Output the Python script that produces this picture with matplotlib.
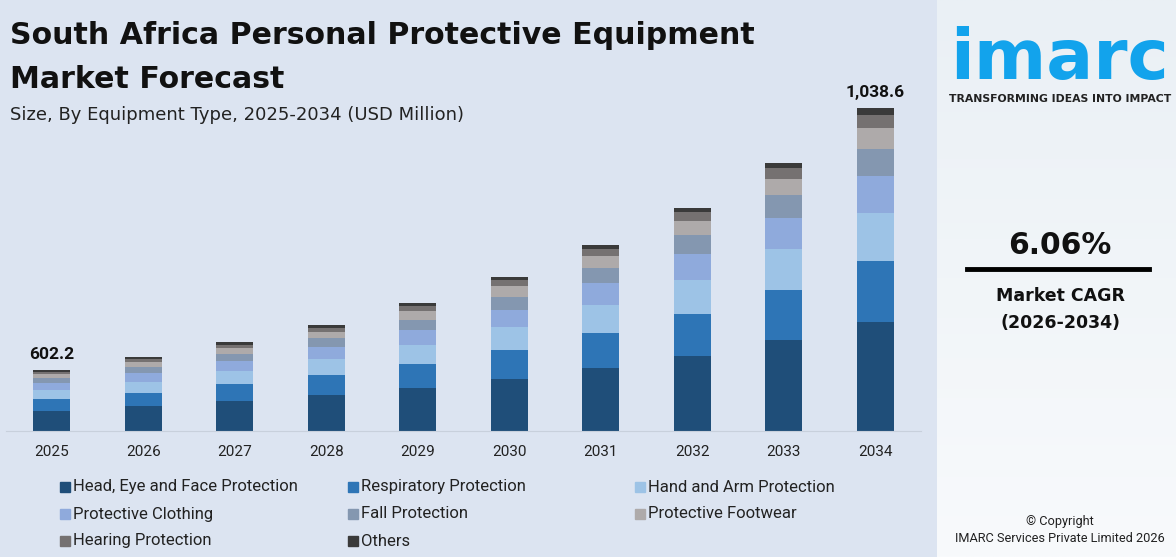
import numpy as np
import matplotlib.pyplot as plt
from matplotlib.patches import Rectangle

years = ["2025", "2026", "2027", "2028", "2029", "2030", "2031", "2032", "2033", "2034"]
segments = ["Head, Eye and Face Protection", "Respiratory Protection", "Hand and Arm Protection",
            "Protective Clothing", "Fall Protection", "Protective Footwear",
            "Hearing Protection", "Others"]
colors = ["#1f4e79", "#2e75b6", "#9dc3e6", "#8faadc", "#8497b0", "#aeaaaa", "#757171", "#3a3a3a"]

# bar segment heights as drawn in the chart
head = [20, 25, 30, 36, 43, 52, 63, 75, 91, 109]
resp = [12, 13.5, 17, 20, 24, 29, 35, 42, 50, 61]
hand = [9, 11, 13, 16, 19, 23, 28, 34, 41, 48]
cloth = [7.5, 9, 10, 12.5, 15, 17, 22, 26, 31, 37]
fall = [5, 6, 7.5, 8.5, 10, 13, 15, 19, 23, 27]
foot = [3.5, 4.5, 5.5, 6.5, 9, 11, 12, 14, 16, 21]
hear = [2, 3, 3.5, 4, 5.5, 6, 7.5, 9, 11, 13]
others = [2, 2, 2.5, 2.5, 2.5, 3, 3.5, 4, 5, 7]
series = [head, resp, hand, cloth, fall, foot, hear, others]

labels = {0: "602.2", 9: "1,038.6"}

W, H = 1176, 557
fig = plt.figure(figsize=(W / 100, H / 100), dpi=100)
fig.patch.set_facecolor("#dce4f1")

# right panel background
rp = fig.add_axes([937 / W, 0, 1 - 937 / W, 1])
grad = np.linspace(0, 1, 256).reshape(-1, 1)
rp.imshow(grad, extent=[0, 1, 0, 1], aspect="auto",
          cmap=plt.matplotlib.colors.LinearSegmentedColormap.from_list("g", ["#eaf0f5", "#f8fafc"]))
rp.set_xlim(0, 1)
rp.set_ylim(0, 1)
rp.axis("off")

ax = fig.add_axes([6 / W, (H - 431) / H, 915 / W, 331 / H])
ax.set_facecolor("none")
x = np.arange(len(years))
bottom = np.zeros(len(years))
for vals, c, name in zip(series, colors, segments):
    ax.bar(x, vals, width=0.40, bottom=bottom, color=c, label=name)
    bottom += np.array(vals)
for i, t in labels.items():
    ax.text(x[i], bottom[i] + 8, t, ha="center", va="bottom", fontsize=12.5,
            fontweight="bold", family="Roboto", color="#111111")
ax.set_xlim(-0.5, len(years) - 0.5)
ax.set_ylim(0, 331)
ax.set_yticks([])
ax.set_xticks(x)
ax.set_xticklabels(years, fontsize=11, family="Roboto", color="#222222")
ax.tick_params(axis="x", length=0, pad=10)
for s in ["top", "right", "left"]:
    ax.spines[s].set_visible(False)
ax.spines["bottom"].set_color("#c8d0dc")

# title block
fig.text(10 / W, 1 - 36 / H, "South Africa Personal Protective Equipment", fontsize=21.6,
         fontweight="bold", family="DejaVu Sans", color="#111111", va="center")
fig.text(10 / W, 1 - 79 / H, "Market Forecast", fontsize=21.6,
         fontweight="bold", family="DejaVu Sans", color="#111111", va="center")
fig.text(10 / W, 1 - 115 / H, "Size, By Equipment Type, 2025-2034 (USD Million)", fontsize=13,
         family="DejaVu Sans", color="#222222", va="center")

# legend
cols_x = [60, 348, 635]
rows_y = [487, 514, 541]
for k, (name, c) in enumerate(zip(segments, colors)):
    px = cols_x[k % 3]
    py = rows_y[k // 3]
    fig.patches.append(Rectangle((px / W, (H - py - 5) / H), 10 / W, 10 / H,
                                 transform=fig.transFigure, color=c))
    fig.text((px + 13) / W, 1 - py / H, name, fontsize=12, family="Roboto",
             color="#222222", va="center")

# right panel texts
fig.text(1060 / W, 1 - 60 / H, "imarc", fontsize=50, fontweight="bold", family="DejaVu Sans",
         color="#12a3ec", ha="center", va="center")
fig.text(1060 / W, 1 - 99 / H, "TRANSFORMING IDEAS INTO IMPACT", fontsize=7.8,
         fontweight="bold", family="DejaVu Sans", color="#222222", ha="center", va="center")
fig.text(1060 / W, 1 - 245 / H, "6.06%", fontsize=21.5, fontweight="bold", family="DejaVu Sans",
         color="#111111", ha="center", va="center")
fig.add_artist(plt.Line2D([967 / W, 1149 / W], [1 - 269 / H, 1 - 269 / H],
                          color="black", lw=3.5, transform=fig.transFigure))
fig.text(1060 / W, 1 - 296 / H, "Market CAGR", fontsize=12.5, fontweight="bold",
         family="DejaVu Sans", color="#111111", ha="center", va="center")
fig.text(1060 / W, 1 - 323 / H, "(2026-2034)", fontsize=12.5, fontweight="bold",
         family="DejaVu Sans", color="#111111", ha="center", va="center")
fig.text(1060 / W, 1 - 521 / H, "© Copyright", fontsize=9.2, family="Roboto",
         color="#222222", ha="center", va="center")
fig.text(1060 / W, 1 - 538 / H, "IMARC Services Private Limited 2026", fontsize=9.2,
         family="Roboto", color="#222222", ha="center", va="center")

fig.savefig("out.png", dpi=100, facecolor=fig.get_facecolor())
